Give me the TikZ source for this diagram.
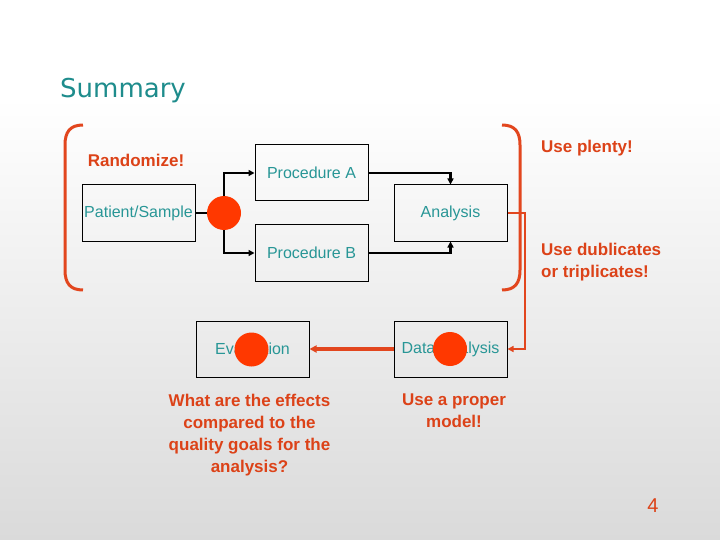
\documentclass[tikz,border=0pt]{standalone}
\usepackage{fontspec}
\setmainfont{Liberation Sans}
\newfontfamily\titlefont{DejaVu Sans}
\usetikzlibrary{arrows.meta}
\definecolor{redtxt}{RGB}{220,66,24}
\definecolor{redln}{RGB}{226,70,30}
\definecolor{dotred}{RGB}{255,56,0}
\definecolor{tealtxt}{RGB}{40,150,150}
\definecolor{titleteal}{RGB}{30,140,140}
\definecolor{bgbottom}{RGB}{218,218,218}
\pgfdeclareverticalshading{bgshade}{100bp}{color(0bp)=(bgbottom); color(25bp)=(bgbottom); color(66bp)=(white); color(100bp)=(white)}
\tikzset{
  box/.style={draw=black,line width=1pt,minimum width=113pt,minimum height=56pt,inner sep=0pt,
    text=tealtxt,font=\fontsize{16}{19}\selectfont},
  dot/.style={circle,fill=dotred,minimum size=34pt,inner sep=0pt},
  blk/.style={draw=black,line width=2.5pt},
  blkarrow/.style={blk,-{Triangle[length=6pt,width=6pt]}},
  redthin/.style={draw=redln,line width=2pt,-{Triangle[length=6pt,width=6pt]}},
  redthick/.style={draw=redln,line width=3.5pt,-{Triangle[length=7pt,width=7pt]}},
  brack/.style={draw=redln,line width=3pt},
  note/.style={text=redtxt,font=\bfseries\fontsize{17}{22}\selectfont,inner sep=0pt},
}
\begin{document}
\begin{tikzpicture}[x=1pt,y=-1pt]
\useasboundingbox (0,0) rectangle (720,540);
\shade[shading=bgshade] (0,0) rectangle (720,540);

\node[text=titleteal,font=\titlefont\fontsize{26}{30}\selectfont,anchor=west,inner sep=0pt] (title) at (60,91) {Summary};

% boxes
\node[box] (ps) at (138.5,213) {Patient/Sample};
\node[box] (pa) at (311.5,173) {Procedure A};
\node[box] (pb) at (311.5,253) {Procedure B};
\node[box] (an) at (450.5,213) {Analysis};
\node[box] (ev) at (252.5,349) {Evaluation};
\node[box] (da) at (450.5,349) {Data Analysis};

% dots
\node[dot] (c1) at (224,213) {};
\node[dot] (c2) at (251.5,349.5) {};
\node[dot] (c3) at (450,349) {};

% black connectors
\draw[blk] (ps.east) -- (c1.west);
\draw[blkarrow] (c1.north) |- (pa.west);
\draw[blkarrow] (c1.south) |- (pb.west);
\draw[blkarrow] (pa.east) -| (an.north);
\draw[blkarrow] (pb.east) -| (an.south);

% brackets
\draw[brack] (83,125) .. controls (70,125) and (65,132) .. (65,145) -- (65,270) .. controls (65,283) and (70,290) .. (83,290);
\draw[brack] (502,125) .. controls (515,125) and (520,132) .. (520,145) -- (520,270) .. controls (520,283) and (515,290) .. (502,290);

% red connectors
\coordinate (k) at (524.5,213);
\draw[redthin] (an.east) -- (k) |- (da.east);
\draw[redthick] (da.west) -- (ev.east);

% notes
\node[note] (rnd) at (136,160) {Randomize!};
\node[note,anchor=west] (plenty) at (541,148) {Use plenty!};
\node[note,anchor=west,align=left] (dub) at (541,262) {Use dublicates\\or triplicates!};
\node[note,align=center,anchor=north] (what) at (249.5,394) {What are the effects\\compared to the\\quality goals for the\\analysis?};
\node[note,align=center,anchor=north] (model) at (454,394) {Use a proper\\model!};
\node[text=redtxt,font=\fontsize{20}{24}\selectfont,inner sep=0pt] (num) at (653,506) {4};
\end{tikzpicture}
\end{document}
